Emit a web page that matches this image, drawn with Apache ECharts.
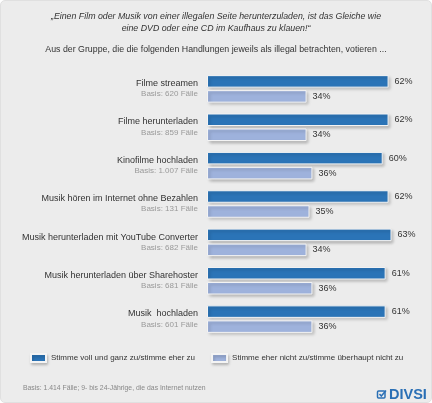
<!DOCTYPE html>
<html>
<head>
<meta charset="utf-8">
<script src="https://cdn.jsdelivr.net/npm/echarts@6/dist/echarts.min.js"></script>
<style>
html,body{margin:0;padding:0;background:#fff;}
#c{width:432px;height:403px;background:#ececec;border-radius:5px;box-sizing:border-box;border:1px solid #e0e0e0;}
</style>
</head>
<body>
<div id="c"></div>
<script>
const categories = ['Filme streamen','Filme herunterladen','Kinofilme hochladen','Musik hören im Internet ohne Bezahlen','Musik herunterladen mit YouTube Converter','Musik herunterladen über Sharehoster','Musik  hochladen'];
const bases = ['Basis: 620 Fälle','Basis: 859 Fälle','Basis: 1.007 Fälle','Basis: 131 Fälle','Basis: 682 Fälle','Basis: 681 Fälle','Basis: 601 Fälle'];
const agree = [62,62,60,62,63,61,61];
const disagree = [34,34,36,35,34,36,36];
const seriesNames = ['Stimme voll und ganz zu/stimme eher zu','Stimme eher nicht zu/stimme überhaupt nicht zu'];
const titleText = '„Einen Film oder Musik von einer illegalen Seite herunterzuladen, ist das Gleiche wie\neine DVD oder eine CD im Kaufhaus zu klauen!“';
const subtitleText = 'Aus der Gruppe, die die folgenden Handlungen jeweils als illegal betrachten, votieren ...';
const footnote = 'Basis: 1.414 Fälle; 9- bis 24-Jährige, die das Internet nutzen';
const logoText = 'DIVSI';

const FONT = '"Liberation Sans", Arial, sans-serif';
const chart = echarts.init(document.getElementById('c'), null, {renderer:'canvas'});
const barStyle = (color) => ({
  color: color,
  borderColor: '#f4f4f4',
  borderWidth: 1,
  shadowBlur: 3,
  shadowColor: 'rgba(0,0,0,0.22)',
  shadowOffsetX: 2,
  shadowOffsetY: 2
});
const labelCfg = {show:true, position:'right', distance:6, formatter:'{c}%', color:'#333', fontSize:9, fontFamily:FONT};
chart.setOption({
  animation:false,
  textStyle:{fontFamily:FONT},
  title:[
    {text:titleText, left:'center', top:5,
     textStyle:{fontSize:8.8, fontStyle:'italic', fontWeight:'normal', color:'#333', lineHeight:12, fontFamily:FONT, align:'center'}},
    {text:subtitleText, left:'center', top:39.5,
     textStyle:{fontSize:8.8, fontWeight:'normal', color:'#333', fontFamily:FONT}},
    {text:footnote, left:17, top:378.5,
     textStyle:{fontSize:6.85, fontWeight:'normal', color:'#888', fontFamily:FONT}}
  ],
  legend:{
    left:24, top:347, width:410, itemWidth:15, itemHeight:8, itemGap:16,
    icon:'rect',
    itemStyle:{shadowBlur:3, shadowColor:'rgba(0,0,0,0.2)', shadowOffsetX:1, shadowOffsetY:2},
    textStyle:{fontSize:8, color:'#333', fontFamily:FONT},
    data:seriesNames
  },
  grid:{left:206, right:19, top:68.7, bottom:63.7, containLabel:false},
  xAxis:{type:'value', min:0, max:70, show:false},
  yAxis:{
    type:'category', inverse:true, data:categories,
    axisLine:{show:false}, axisTick:{show:false},
    axisLabel:{
      margin:9, align:'right',
      formatter:(v, i) => '{a|' + v + '}\n{b|' + bases[i] + '}',
      rich:{
        a:{fontSize:9, color:'#333', lineHeight:10.5, fontFamily:FONT, align:'right'},
        b:{fontSize:8, color:'#999', lineHeight:10.5, fontFamily:FONT, align:'right'}
      }
    }
  },
  series:[
    {name:seriesNames[0], type:'bar', data:agree, barWidth:12.5, barGap:'20%',
     itemStyle:barStyle('#2b74b7'), label:labelCfg},
    {name:seriesNames[1], type:'bar', data:disagree, barWidth:12.5,
     itemStyle:barStyle('#9eb2dc'), label:labelCfg}
  ],
  graphic:[
    {type:'rect', shape:{x:376.5, y:390, width:7.5, height:7, r:1},
     style:{fill:'none', stroke:'#2a6fb5', lineWidth:1.5}},
    {type:'polyline', shape:{points:[[378.5,393],[380.3,395],[385,389.5]]},
     style:{fill:'none', stroke:'#2a6fb5', lineWidth:1.5}},
    {type:'text', left:388, top:386,
     style:{text:logoText, fill:'#2a6fb5', font:'bold 14.5px "Liberation Sans", Arial, sans-serif'}}
  ]
});
</script>
</body>
</html>
